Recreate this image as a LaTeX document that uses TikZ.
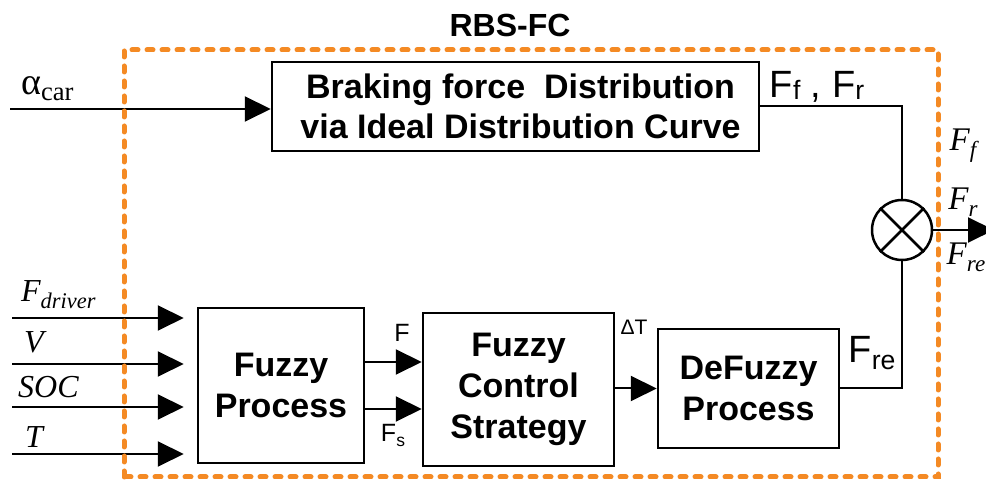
\documentclass[tikz,border=0pt]{standalone}
\usepackage{fontspec}
\setmainfont{Liberation Serif}
\setsansfont{Liberation Sans}
\usetikzlibrary{positioning,arrows.meta}
\definecolor{rbsorange}{RGB}{244,138,36}
\tikzstyle{signal edge}=[-{Triangle[length=26pt,width=25pt]},line width=2pt]
\tikzstyle{plain edge}=[line width=2pt]
\tikzstyle{block}=[draw,line width=2.5pt,align=center,inner sep=0pt,
  font=\sffamily\bfseries\fontsize{34}{41}\selectfont]
\tikzstyle{sig label}=[inner sep=0pt,font=\sffamily\fontsize{25}{25}\selectfont]
\tikzstyle{var label}=[inner sep=0pt,font=\itshape\fontsize{32}{32}\selectfont]
\tikzstyle{frame}=[rbsorange,line width=5pt,line cap=round,dash pattern=on 6pt off 9pt]
\newcommand{\blocknode}[3][]{
  \node [block, #1] (#2) {#3}
}
\newcommand{\sub}[2][-0.2em]{\raisebox{#1}{\scalebox{0.7}{#2}}}

\begin{document}
\begin{tikzpicture}[x=1pt,y=1pt]
        \useasboundingbox (0,0) rectangle (986,481);
        \blocknode[minimum width=487pt,minimum height=89pt,at={(515.5,374.5)},font=\sffamily\bfseries\fontsize{34}{40}\selectfont]{bdc}{\hspace*{10pt}Braking force~ Distribution\\\hspace*{10pt}via Ideal Distribution Curve};
        \blocknode[minimum width=166pt,minimum height=155pt,at={(281,95.5)}]{fp}{Fuzzy\\Process};
        \blocknode[minimum width=191pt,minimum height=153pt,at={(518.5,91.5)}]{fcs}{Fuzzy\\Control\\Strategy};
        \blocknode[minimum width=181pt,minimum height=119pt,at={(748.5,92.5)}]{dfp}{DeFuzzy\\Process};
        \node [draw,circle,line width=2.5pt,minimum size=60pt,inner sep=0pt] (mix) at (902,251) {};
        \draw[line width=2.5pt] (mix.north west) -- (mix.south east) (mix.north east) -- (mix.south west);

        \coordinate (acar) at (10,372);
        \coordinate (in1) at (12,163);
        \coordinate (in2) at (12,117);
        \coordinate (in3) at (12,74);
        \coordinate (in4) at (12,27);
        \coordinate (out) at (994,251);

        % inputs
            \draw[signal edge] (acar) -- (acar -| bdc.west);
            \draw[signal edge, shorten >=13pt] (in1) -- (in1 -| fp.west);
            \draw[signal edge, shorten >=13pt] (in2) -- (in2 -| fp.west);
            \draw[signal edge, shorten >=13pt] (in3) -- (in3 -| fp.west);
            \draw[signal edge, shorten >=13pt] (in4) -- (in4 -| fp.west);

            \draw[signal edge] (fp.east |- 0,119) -- (fcs.west |- 0,119);
            \draw[signal edge] (fp.east |- 0,72) -- (fcs.west |- 0,72);
            \draw[signal edge] (fcs.east |- dfp) -- (dfp.west);

        % outputs
            \draw[plain edge] (bdc.east) -- (bdc.east -| mix) -- (mix.north);
            \draw[plain edge] (dfp.east) -- (dfp.east -| mix) -- (mix.south);
            \draw[signal edge] (mix.east) -- (out);

        \node[var label, anchor=base west, font=\fontsize{38}{38}\selectfont] (lacar) at (21,386) {α\sub[-0.15em]{car}};
        \node[var label, anchor=base west] (lin1) at (21,179) {F\sub{driver}};
        \node[var label, anchor=base west] (lin2) at (24,128) {V};
        \node[var label, anchor=base west] (lin3) at (18,83) {SOC};
        \node[var label, anchor=base west] (lin4) at (25,33) {T};

        \node[sig label, anchor=base] (lf) at (402,139) {F};
        \node[sig label, anchor=base] (lfs) at (393,39) {F\sub{s}};
        \node[sig label, anchor=base, font=\sffamily\fontsize{21}{21}\selectfont] (ldt) at (634,146) {ΔT};
        \node[sig label, anchor=base, font=\sffamily\fontsize{38}{38}\selectfont] (lfre) at (872,118) {F\sub[-0.18em]{re}};
        \node[sig label, anchor=base, font=\sffamily\fontsize{38}{38}\selectfont] (lffr) at (817,383) {F\sub[-0.05em]{f} , F\sub[-0.05em]{r}};

        \node[var label, anchor=base, font=\itshape\fontsize{33}{33}\selectfont] (rff) at (963,330) {F\sub{f}};
        \node[var label, anchor=base, font=\itshape\fontsize{33}{33}\selectfont] (rfr) at (963,271) {F\sub{r}};
        \node[var label, anchor=base, font=\itshape\fontsize{33}{33}\selectfont] (rfre) at (966,216) {F\sub{re}};

        \node[anchor=base, inner sep=0pt, font=\sffamily\bfseries\fontsize{32}{32}\selectfont] (title) at (510,444) {RBS-FC};

        \draw[frame] (124,4) rectangle (938,431);
\end{tikzpicture}
\end{document}
